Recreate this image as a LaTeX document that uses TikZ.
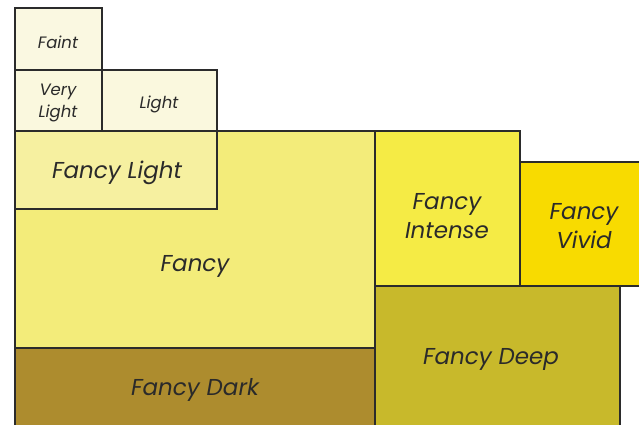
\documentclass[tikz,border=0pt]{standalone}
\usepackage{fontspec}
\setmainfont{Poppins}
\definecolor{faintc}{HTML}{FAF8E1}
\definecolor{lightc}{HTML}{FAF8DE}
\definecolor{fancylightc}{HTML}{F6F0A0}
\definecolor{fancyc}{HTML}{F3EC7A}
\definecolor{intensec}{HTML}{F5EB45}
\definecolor{vividc}{HTML}{F8DB00}
\definecolor{deepc}{HTML}{C8B92B}
\definecolor{darkc}{HTML}{AD8C2E}
\definecolor{edgec}{HTML}{2B2B2B}
\definecolor{labelc}{HTML}{2A2A2A}
\tikzset{
  cell/.style={draw=edgec, line width=1.6pt, rectangle, anchor=north west,
    inner sep=0pt, outer sep=0pt},
  tag/.style={align=center, text=labelc, inner sep=0pt},
  big/.style={tag, font=\fontsize{23}{29}\selectfont\itshape},
  small/.style={tag, font=\fontsize{16.5}{22.5}\selectfont\itshape},
}
\begin{document}
\begin{tikzpicture}[x=1pt,y=-1pt]
\useasboundingbox (0,0) rectangle (639,424);
\clip (0,0) rectangle (639,424);
\fill[white] (0,0) rectangle (639,424);
% main block and its neighbours
\node[cell, fill=fancyc, minimum width=360, minimum height=217] (fancy) at (15,131) {};
\node[cell, fill=fancylightc, minimum width=202, minimum height=78] (fancylight) at (15,131) {};
\node[cell, fill=darkc, minimum width=360, minimum height=90] (dark) at (15,348) {};
\node[cell, fill=intensec, minimum width=145, minimum height=155] (intense) at (375,131) {};
\node[cell, fill=vividc, minimum width=130, minimum height=124] (vivid) at (520,162) {};
\node[cell, fill=deepc, minimum width=245, minimum height=150] (deep) at (375,286) {};
% pale tints in the corner
\node[cell, fill=faintc, minimum width=87, minimum height=62] (faint) at (15,8) {};
\node[cell, fill=lightc, minimum width=87, minimum height=61] (verylight) at (15,70) {};
\node[cell, fill=lightc, minimum width=115, minimum height=61] (light) at (102,70) {};
% labels
\node[big] (fancyt) at (195,266) {Fancy};
\node[big] (fancylightt) at (117,173) {Fancy Light};
\node[big] (darkt) at (195,390) {Fancy Dark};
\node[big] (intenset) at (447,216) {Fancy\\Intense};
\node[big] (vividt) at (584,226) {Fancy\\Vivid};
\node[big] (deept) at (491,359) {Fancy Deep};
\node[small] (faintt) at (58,42) {Faint};
\node[small] (verylightt) at (58,103) {Very\\Light};
\node[small] (lightt) at (159,104) {Light};
\end{tikzpicture}
\end{document}
